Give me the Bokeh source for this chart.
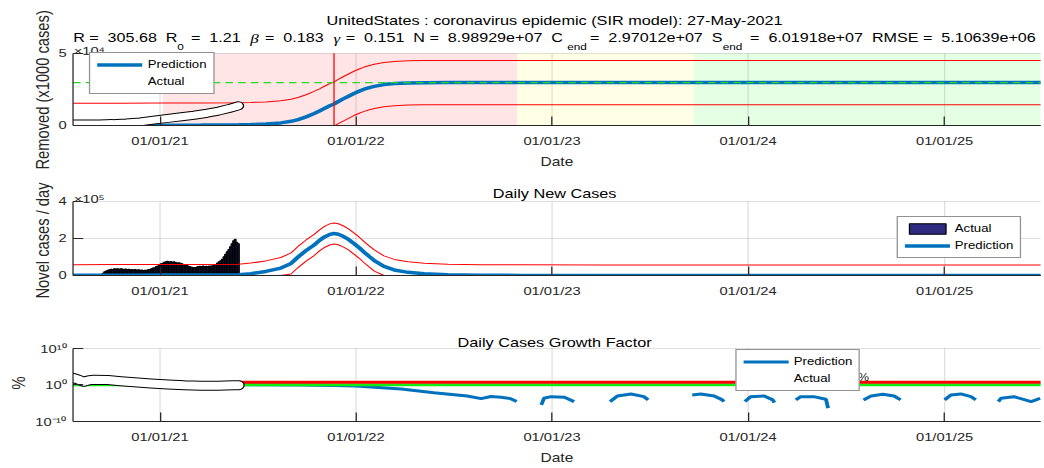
import numpy as np
import pandas as pd
from bokeh.embed import file_html
from bokeh.layouts import column
from bokeh.models import (CustomJSTickFormatter, DatetimeTickFormatter, FixedTicker,
                          InlineStyleSheet, Label, Legend, LegendItem, Range1d, Title)
from bokeh.plotting import figure
from bokeh.resources import INLINE

# ---------------------------------------------------------------- fit report
COUNTRY = "UnitedStates"
REPORT_DATE = "27-May-2021"
R_FIT = 305.68
R0_FIT = 1.21
BETA_FIT = 0.183
GAMMA_FIT = 0.151
N_POP = 8.98929e7
C_END = 2.97012e7
S_END = 6.01918e7
RMSE = 5.10639e6

DATE_FIRST = "2020-07-23"
DATE_LAST = "2025-06-29"
LAST_REPORTED = "2021-05-27"
YEAR_TICKS = ["2021-01-01", "2022-01-01", "2023-01-01", "2024-01-01", "2025-01-01"]
PEAK_DATE = "2021-11-21"

# epidemic phases shaded on the cumulative panel
PHASE_STARTS = ["2021-01-06", "2022-10-28", "2023-09-22"]
PHASE_ENDS = ["2022-10-28", "2023-09-22", "2025-06-29"]

# ---------------------------------------------------------------- model output
PRED_DATES = ["2020-07-23", "2020-10-20", "2021-01-01", "2021-03-18", "2021-05-27",
              "2021-06-19", "2021-07-17", "2021-08-14", "2021-09-02", "2021-09-15",
              "2021-09-30", "2021-10-15", "2021-10-25", "2021-11-04", "2021-11-13",
              "2021-11-21", "2021-11-29", "2021-12-08", "2021-12-18", "2021-12-28",
              "2022-01-07", "2022-01-16", "2022-01-26", "2022-02-04", "2022-02-22",
              "2022-03-13", "2022-04-08", "2022-05-08", "2022-06-21", "2022-08-22",
              "2022-11-04", "2023-04-01", "2025-06-29"]
# cumulative removed, thousands of cases
PRED_CUM_K = [50, 100, 180, 300, 450,
              650, 1000, 1800, 2900, 4100,
              6000, 8300, 10000, 12000, 13700,
              14900, 16600, 18400, 20300, 22200,
              23800, 25100, 26200, 27100, 28300,
              29000, 29450, 29630, 29690, 29698,
              29700, 29701, 29701]
# new cases per day
PRED_DAILY = [1500, 2000, 2500, 3000, 4000,
              10000, 22000, 40000, 65000, 100000,
              135000, 165000, 190000, 210000, 222000,
              227000, 223000, 212000, 195000, 173000,
              150000, 126000, 102000, 81000, 49000,
              30000, 17000, 9000, 4000, 1500,
              500, 100, 0]
DAILY_BAND = 57000

# ---------------------------------------------------------------- observations
ACTUAL_CUM_DATES = ["2020-07-23", "2020-08-15", "2020-09-10", "2020-10-05", "2020-10-30",
                    "2020-11-25", "2020-12-20", "2021-01-15", "2021-02-10", "2021-03-05",
                    "2021-03-30", "2021-04-20", "2021-05-10", "2021-05-27"]
ACTUAL_CUM_K = [1000, 1050, 1100, 1300, 1800,
                2500, 3700, 4900, 6000, 7100,
                8500, 10000, 11800, 13600]

NEW_CASES_FIRST = "2020-09-17"   # three-day bins up to the report date
NEW_CASES_K = [12, 20, 25, 28, 31, 34, 33, 36, 35, 37,
               34, 36, 35, 33, 35, 32, 34, 31, 33, 30,
               32, 29, 31, 28, 30, 27, 29, 28, 31, 33,
               36, 40, 42, 48, 52, 58, 63, 66, 71, 75,
               77, 73, 76, 72, 74, 70, 68, 69, 66, 64,
               60, 58, 54, 50, 47, 45, 43, 42, 45, 48,
               50, 49, 51, 48, 50, 49, 52, 50, 53, 55,
               60, 68, 75, 80, 88, 102, 115, 128, 140, 155,
               172, 188, 196, 180, 172]

GF_ACTUAL_DATES = ["2020-07-23", "2020-08-01", "2020-08-12", "2020-08-22", "2020-08-31",
                   "2020-09-26", "2020-10-20", "2020-11-14", "2020-12-15", "2021-01-16",
                   "2021-02-15", "2021-03-18", "2021-04-18", "2021-05-18", "2021-05-27"]
GF_ACTUAL_PCT = [80, 30, 7, 18, 23,
                 21, 10, 5.2, 2.4, 1.26,
                 0.75, 0.54, 0.6, 0.74, 0.78]
GF_ONE = 1.0
GF_CEIL = 5.0

# predicted growth factor, split where the model value is undefined
GF_PRED_SEGMENTS = [
    (["2021-05-27", "2021-09-20", "2021-11-21", "2022-01-01", "2022-03-26", "2022-05-26",
      "2022-07-27", "2022-08-22", "2022-09-09", "2022-09-28", "2022-10-16", "2022-10-27"],
     [1.0, 0.95, 0.66, 0.5, 0.074, 7.4e-3, 9.3e-4, 1.7e-4, 6.3e-4, 4.2e-4, 1.7e-4, 2.7e-5]),
    (["2022-12-12", "2022-12-17", "2022-12-30", "2023-01-24", "2023-02-11"],
     [3.4e-6, 2.2e-4, 6.0e-4, 4.2e-4, 2.7e-5]),
    (["2023-04-19", "2023-05-03", "2023-05-28", "2023-06-21", "2023-06-29"],
     [2.7e-5, 9.3e-4, 3.3e-3, 6.0e-4, 7.8e-5]),
    (["2023-09-19", "2023-10-05", "2023-10-30", "2023-11-14", "2023-11-17"],
     [1.8e-3, 3.3e-3, 9.3e-4, 7.8e-5, 2.7e-5]),
    (["2023-12-26", "2024-01-06", "2024-01-31", "2024-02-16", "2024-02-19"],
     [2.7e-5, 6.0e-4, 9.3e-4, 7.8e-5, 1.4e-5]),
    (["2024-03-30", "2024-04-08", "2024-05-02", "2024-05-25", "2024-05-29"],
     [7.8e-5, 6.0e-4, 6.0e-4, 1.2e-4, 4.4e-7]),
    (["2024-08-03", "2024-08-17", "2024-09-08", "2024-09-29", "2024-10-11"],
     [7.8e-5, 9.3e-4, 2.8e-3, 9.3e-4, 7.8e-5]),
    (["2025-01-01", "2025-01-13", "2025-01-31", "2025-02-19", "2025-02-28"],
     [7.8e-5, 1.8e-3, 3.3e-3, 6.0e-4, 7.8e-5]),
    (["2025-04-11", "2025-04-16", "2025-05-10", "2025-06-11", "2025-06-20", "2025-06-28"],
     [2.7e-5, 2.2e-4, 6.0e-4, 2.7e-5, 7.8e-5, 2.2e-4]),
]

# ---------------------------------------------------------------- styling
SX = 1.27                 # each canvas is drawn narrow and stretched sideways
PAGE_W = 822
BORDER_L, BORDER_R = 57, 3
FONT = "Liberation Sans"
TICK_PX = "11.6px"
LABEL_PX = "12.8px"
XLABEL_PX = "12.2px"
YLABEL_PX = "14.7px"
HEAD_PX = "12.7px"
LEGEND_PX = "10.4px"
SUB_PX = "9.3px"
INK = "#262626"
BLUE = "#0072bd"
PHASE_COLORS = ["#ff0000", "#ffff00", "#00ff00"]
STRETCH = InlineStyleSheet(css=f"""
:host {{ overflow: visible; }}
:host > * {{ transform: scaleX({SX}); transform-origin: 0 0; }}
""")


def ms(d):
    return pd.Timestamp(d).value / 1e6


X0, X1 = ms(DATE_FIRST), ms(DATE_LAST)
FRAME_W = PAGE_W - BORDER_L - BORDER_R
TICK_MS = [ms(d) for d in YEAR_TICKS]


def x_at(px):
    """time value at a horizontal page position (after stretching)"""
    return X0 + (px / SX - BORDER_L) / FRAME_W * (X1 - X0)


def panel(fig_top, fig_bottom, frame_bottom, data_top, lo, hi, log=False):
    """A panel whose frame reaches the top of its canvas; the data box spans
    page rows data_top..frame_bottom, the strip above it carries the headings."""
    span = (frame_bottom - fig_top) / (frame_bottom - data_top)
    if log:
        l0, l1 = np.log10(lo), np.log10(hi)
        y_end = 10 ** (l0 + (l1 - l0) * span)
    else:
        y_end = lo + (hi - lo) * span
    p = figure(width=PAGE_W, height=fig_bottom - fig_top, x_axis_type="datetime",
               y_axis_type="log" if log else "linear",
               x_range=Range1d(X0, X1), y_range=Range1d(lo, y_end), output_backend="svg",
               toolbar_location=None, title=None, stylesheets=[STRETCH],
               min_border_left=BORDER_L, min_border_right=BORDER_R,
               min_border_top=0, min_border_bottom=fig_bottom - frame_bottom)
    p.outline_line_color = None
    p.xaxis.ticker = FixedTicker(ticks=TICK_MS)
    fmt = "%m/%d/%y"
    p.xaxis.formatter = DatetimeTickFormatter(years=fmt, months=fmt, days=fmt, hours=fmt)
    for ax in (p.xaxis[0], p.yaxis[0]):
        ax.axis_line_color = INK
        ax.major_tick_line_color = INK
        ax.major_tick_out = 0
        ax.minor_tick_line_color = None
        ax.major_label_text_font = FONT
        ax.major_label_text_font_size = TICK_PX
        ax.major_label_text_color = INK
        ax.axis_label_text_font = FONT
        ax.axis_label_text_font_size = XLABEL_PX
        ax.axis_label_text_font_style = "normal"
        ax.axis_label_text_color = INK
    p.yaxis.bounds = (lo, hi)
    p.xaxis.major_tick_in = 9
    p.yaxis.major_tick_in = 8
    p.xaxis.major_label_standoff = 9
    p.yaxis.major_label_standoff = 5
    p.xaxis.axis_label_standoff = 5
    p.ygrid.grid_line_color = INK
    p.ygrid.grid_line_alpha = 0.15
    p.xgrid.visible = False
    # vertical grid only across the data box
    p.segment(x0=TICK_MS, y0=lo, x1=TICK_MS, y1=hi, line_color=INK, line_alpha=0.15, line_width=1)

    def y_at(py):
        f = (frame_bottom - py) / (frame_bottom - data_top)
        if log:
            return 10 ** (np.log10(lo) + f * (np.log10(hi) - np.log10(lo)))
        return lo + f * (hi - lo)
    return p, y_at, frame_bottom


def side_label(p, text, frame_bottom, start_py):
    """vertical axis title whose first letter sits at page row start_py"""
    p.add_layout(Title(text=text, align="left", offset=frame_bottom - start_py, standoff=4,
                       text_font=FONT, text_font_size=YLABEL_PX, text_font_style="normal",
                       text_color=INK), "left")


def put(p, text, px, yv, size, align="left", font=FONT, style="normal", color="black"):
    p.add_layout(Label(x=x_at(px), y=yv, text=text, text_font=font, text_font_size=size,
                       text_font_style=style, text_color=color, text_align=align,
                       text_baseline="alphabetic"))


def add_legend(p, items, loc):
    p.add_layout(Legend(items=[LegendItem(label=t, renderers=[r]) for t, r in items],
                        location=loc, label_text_font=FONT, label_text_font_size=LEGEND_PX,
                        label_text_color="black", border_line_color=INK, border_line_width=1,
                        background_fill_color="white", background_fill_alpha=1,
                        glyph_width=36, glyph_height=13, label_height=13, label_standoff=4,
                        padding=5, spacing=4, margin=0))


def sp(s):
    return s.replace("  ", " \u00a0")


pred_dates = pd.to_datetime(PRED_DATES)
cum_k = np.array(PRED_CUM_K, dtype=float)
daily = np.array(PRED_DAILY, dtype=float)
cum_band = 3 * RMSE / 1000.0
CUM_MAX = 50000

# ================================================================ cumulative
top, top_y, top_fb = panel(0, 172, 128, 54, 0, CUM_MAX)
top.yaxis.ticker = FixedTicker(ticks=[0, CUM_MAX])
top.yaxis.formatter = CustomJSTickFormatter(code="return (tick / 1e4).toFixed(0);")
top.xaxis.axis_label = "Date"
side_label(top, "Removed (x1000 cases)", top_fb, 172)

top.quad(left=pd.to_datetime(PHASE_STARTS), right=pd.to_datetime(PHASE_ENDS),
         bottom=0, top=CUM_MAX, fill_color=PHASE_COLORS, fill_alpha=0.1, line_color=None)
blue_top = top.line(pred_dates, cum_k, line_color=BLUE, line_width=3.5)
top.line(pred_dates, cum_k + cum_band, line_color="red", line_width=1)
top.line(pred_dates, cum_k - cum_band, line_color="red", line_width=1)
top.line([X0, X1], [C_END / 1000.0] * 2, line_color="#22dd22", line_width=1.2, line_dash="6 4")
top.segment(x0=[ms(PEAK_DATE)], y0=[0], x1=[ms(PEAK_DATE)], y1=[CUM_MAX],
            line_color="red", line_width=1)
act_dates = pd.to_datetime(ACTUAL_CUM_DATES)
top.line(act_dates, ACTUAL_CUM_K, line_color="black", line_width=9, line_cap="round", line_join="round")
white_top = top.line(act_dates, ACTUAL_CUM_K, line_color="white", line_width=7,
                     line_cap="round", line_join="round")

# heading block
put(top, f"{COUNTRY} : coronavirus epidemic (SIR model): {REPORT_DATE}", 554, top_y(20.0),
    LABEL_PX, align="center")
line_y = top_y(38.5)
sub_y = top_y(47.3)
put(top, sp(f"R =  {R_FIT:.2f}  R"), 72.5, line_y, HEAD_PX)
put(top, "0", 176.5, sub_y, SUB_PX)
put(top, sp(f"=  {R0_FIT:.2f}"), 190.3, line_y, HEAD_PX)
put(top, "β", 249.7, line_y, "13.4px", font="Liberation Serif", style="italic")
put(top, sp(f"=  {BETA_FIT:.3f}"), 264.3, line_y, HEAD_PX)
put(top, "γ", 332.9, line_y, "13.4px", font="Liberation Serif", style="italic")
put(top, sp(f"=  {GAMMA_FIT:.3f}  N =  {N_POP:.5e}  C"), 345.1, line_y, HEAD_PX)
put(top, "end", 566.5, sub_y, SUB_PX)
put(top, sp(f"=  {C_END:.5e}  S"), 589.3, line_y, HEAD_PX)
put(top, "end", 722, sub_y, SUB_PX)
put(top, sp(f"=  {S_END:.5e}  RMSE =  {RMSE:.5e}"), 749.4, line_y, HEAD_PX)
put(top, "×10⁴", 73, top_y(51.7), TICK_PX, color=INK)

add_legend(top, [("Prediction", blue_top), ("Actual", white_top)], (13.4, 30.7))

# ================================================================ daily cases
DAILY_MAX = 400000
mid, mid_y, mid_fb = panel(172, 310, 275, 201, 0, DAILY_MAX)
mid.yaxis.ticker = FixedTicker(ticks=[0, 200000, DAILY_MAX])
mid.yaxis.formatter = CustomJSTickFormatter(code="return (tick / 1e5).toFixed(0);")
side_label(mid, "Novel cases / day", mid_fb, 298)

bin_dates = pd.date_range(NEW_CASES_FIRST, periods=len(NEW_CASES_K), freq="3D")
bars = mid.vbar(x=bin_dates, top=np.array(NEW_CASES_K) * 1000.0, width=3 * 86400000,
                fill_color="#2e2a80", line_color="black", line_width=1)
blue_mid = mid.line(pred_dates, daily, line_color=BLUE, line_width=3.5)
mid.line(pred_dates, daily + DAILY_BAND, line_color="red", line_width=1)
mid.line(pred_dates, np.maximum(daily - DAILY_BAND, 0), line_color="red", line_width=1)

put(mid, "Daily New Cases", 554, mid_y(193), LABEL_PX, align="center")
put(mid, "×10⁵", 73, mid_y(198.3), TICK_PX, color=INK)
add_legend(mid, [("Actual", bars), ("Prediction", blue_mid)], (648.8, 17))

# ================================================================ growth factor
bot, bot_y, bot_fb = panel(310, 468, 422, 348, 1e-10, 1e10, log=True)
bot.yaxis.ticker = FixedTicker(ticks=[1e-10, 1, 1e10])
bot.yaxis.formatter = CustomJSTickFormatter(code="""
const e = Math.round(Math.log10(tick));
const sup = {"0":"\u2070","1":"\u00b9","2":"\u00b2","3":"\u00b3","4":"\u2074","5":"\u2075",
             "6":"\u2076","7":"\u2077","8":"\u2078","9":"\u2079","-":"\u207b"};
return "10" + String(e).split("").map(c => sup[c]).join("");
""")
bot.xaxis.axis_label = "Date"
side_label(bot, "%", bot_fb, 390)

blue_bot = bot.multi_line(xs=[[ms(d) for d in ds] for ds, _ in GF_PRED_SEGMENTS],
                          ys=[list(v) for _, v in GF_PRED_SEGMENTS],
                          line_color=BLUE, line_width=3)
bot.line([X0, X1], [GF_ONE] * 2, line_color="#11ee11", line_width=3)
bot.line([ms(LAST_REPORTED), X1], [GF_CEIL] * 2, line_color="red", line_width=3)
gf_dates = pd.to_datetime(GF_ACTUAL_DATES)
bot.line(gf_dates, GF_ACTUAL_PCT, line_color="black", line_width=10, line_cap="round", line_join="round")
white_bot = bot.line(gf_dates, GF_ACTUAL_PCT, line_color="white", line_width=8,
                     line_cap="round", line_join="round")

put(bot, "Daily Cases Growth Factor", 554, bot_y(342), LABEL_PX, align="center")
put(bot, "%", 857, bot_y(378), "10px", color=INK)
add_legend(bot, [("Prediction", blue_bot), ("Actual", white_bot)], (522, 29.7))

page = column(top, mid, bot)

with open("out.html", "w", encoding="utf-8") as fh:
    fh.write(file_html(page, INLINE))
